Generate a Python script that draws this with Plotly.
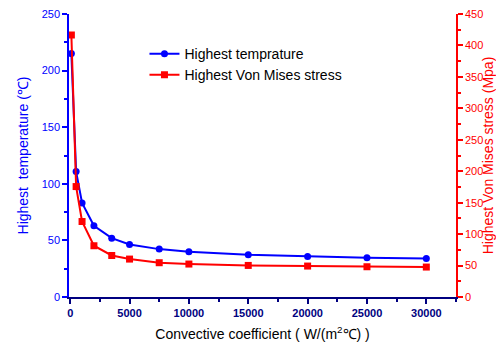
import plotly.graph_objects as go

coef = [100, 500, 1000, 2000, 3500, 5000, 7500, 10000, 15000, 20000, 25000, 30000]
temp = [215, 110.8, 83, 62.9, 52, 46.4, 42.3, 40, 37.3, 35.8, 34.7, 34.1]
stress = [416.6, 175.6, 120, 81.5, 66, 60.3, 54.5, 52.4, 50.2, 49.2, 48.1, 47.6]

BLUE = "#0000ff"
RED = "#ff0000"
NAVY = "#000080"
FONT = "Liberation Sans, Arial, sans-serif"

fig = go.Figure()
fig.add_trace(go.Scatter(x=coef, y=temp, name="Highest temprature", mode="lines+markers",
                         line=dict(color=BLUE, width=2), marker=dict(symbol="circle", size=7, color=BLUE),
                         yaxis="y"))
fig.add_trace(go.Scatter(x=coef, y=stress, name="Highest Von Mises stress", mode="lines+markers",
                         line=dict(color=RED, width=2), marker=dict(symbol="square", size=7, color=RED),
                         yaxis="y2"))

fig.update_layout(
    width=496, height=347,
    margin=dict(l=69, r=40, t=14, b=50),
    paper_bgcolor="white", plot_bgcolor="white",
    font=dict(family=FONT, size=12, color="black"),
    showlegend=True,
    legend=dict(x=0.195, y=0.915, xanchor="left", yanchor="top", bgcolor="rgba(0,0,0,0)",
                font=dict(size=14, color="black"), itemwidth=30, tracegroupgap=0),
    xaxis=dict(range=[-100, 32500], tickmode="array", tickvals=[0, 5000, 10000, 15000, 20000, 25000, 30000],
               ticktext=["<b>0</b>", "<b>5000</b>", "<b>10000</b>", "<b>15000</b>", "<b>20000</b>", "<b>25000</b>", "<b>30000</b>"],
               showgrid=False, zeroline=False, showline=True, linecolor=NAVY, linewidth=1.5, automargin=False,
               ticks="outside", ticklen=5, tickcolor=NAVY, tickwidth=1.5,
               tickfont=dict(color=NAVY, size=11),
               minor=dict(dtick=2500, tick0=0, ticks="outside", ticklen=3, tickcolor=NAVY, tickwidth=1.5),
               title=dict(text="Convective coefficient ( W/(m<sup>2</sup>℃) )", font=dict(size=14, color="black"), standoff=11)),
    yaxis=dict(range=[0, 250], dtick=50, showgrid=False, zeroline=False, showline=True, automargin=False,
               linecolor=BLUE, linewidth=1.5, ticks="outside", ticklen=5, tickcolor=BLUE, tickwidth=1.5,
               tickfont=dict(color=BLUE, size=11),
               minor=dict(dtick=25, ticks="outside", ticklen=3, tickcolor=BLUE, tickwidth=1.5),
               title=dict(text="Highest  temperature (℃)", font=dict(size=14, color=BLUE), standoff=10)),
    yaxis2=dict(range=[0, 450], dtick=50, overlaying="y", side="right", showgrid=False, zeroline=False,
                showline=True, linecolor=RED, linewidth=1.5, automargin=False,
                ticks="outside", ticklen=5, tickcolor=RED, tickwidth=1.5,
                tickfont=dict(color=RED, size=11),
                minor=dict(dtick=25, ticks="outside", ticklen=3, tickcolor=RED, tickwidth=1.5),
                title=dict(text="Highest Von Mises stress (Mpa)", font=dict(size=14, color=RED), standoff=6)),
)

fig.write_html("out.html")
